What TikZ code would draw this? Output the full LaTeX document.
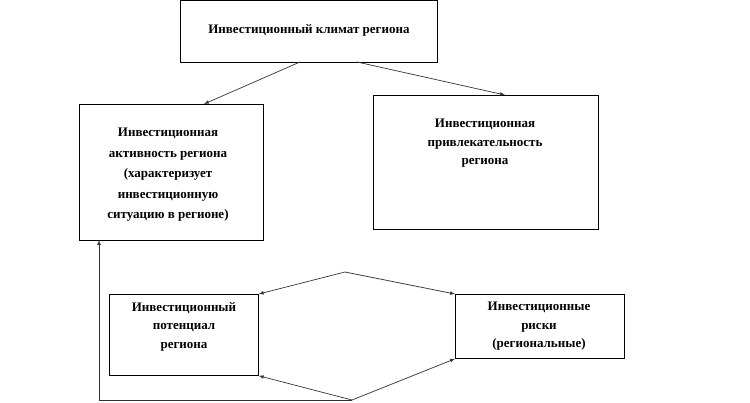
\documentclass[tikz,border=0pt]{standalone}
\usepackage{fontspec}
\setmainfont{Liberation Serif}
\usetikzlibrary{positioning}

\begin{document}
\begin{tikzpicture}[x=1pt,y=-1pt,>=latex,
  box/.style={draw,line width=0.8pt,inner sep=0pt,anchor=north west},
  txt/.style={align=center,font=\bfseries\fontsize{13}{18.5}\selectfont,inner sep=0pt,anchor=north},
  link/.style={draw=black!80,line width=0.7pt,->}]
\useasboundingbox (0,0) rectangle (750,403);
% blocks
\node[box,minimum width=257pt,minimum height=62pt] (climate) at (180,0) {};
\node[txt] at (309,24) {Инвестиционный климат региона};
\node[box,minimum width=184pt,minimum height=136pt] (activity) at (79,104) {};
\node[txt,font=\bfseries\fontsize{13}{20.5}\selectfont] at (168,128)
  {Инвестиционная\\активность региона\\(характеризует\\инвестиционную\\ситуацию в регионе)};
\node[box,minimum width=225pt,minimum height=134pt] (attract) at (373,95) {};
\node[txt] at (485,119) {Инвестиционная\\привлекательность\\региона};
\node[box,minimum width=149pt,minimum height=81pt] (potential) at (109,294) {};
\node[txt] at (184,302) {Инвестиционный\\потенциал\\региона};
\node[box,minimum width=169pt,minimum height=64pt] (risks) at (455,294) {};
\node[txt] at (539,302) {Инвестиционные\\риски\\(региональные)};
% joints
\coordinate (top) at (345,272);
\coordinate (bot) at (352,400);
\coordinate (corner) at (99,400);
% connectors
\draw[link] (300,62) -- (204,104);
\draw[link] (357,62) -- (505,95);
\draw[link] (top) -- (potential.north east);
\draw[link] (top) -- (risks.north west);
\draw[link] (bot) -- (potential.south east);
\draw[link] (bot) -- (risks.south west);
\draw[link] (bot) -- (corner) -- (99,240);
\end{tikzpicture}
\end{document}
